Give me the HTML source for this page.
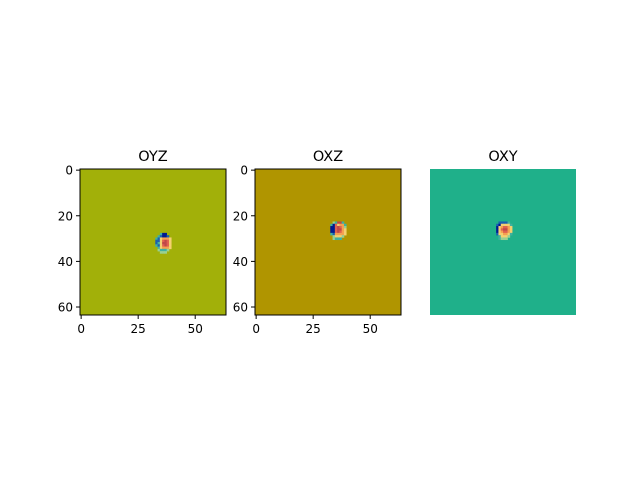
<!DOCTYPE html>
<html><head><meta charset="utf-8"><style>
body{margin:0;background:#fff;}
svg text{font-family:"DejaVu Sans","Liberation Sans",sans-serif;}
</style></head><body>
<svg id="fig" width="640" height="480" xmlns="http://www.w3.org/2000/svg"></svg>
<script>
const titles=["OYZ","OXZ","OXY"];
const bgColors=["#a2b009","#b09500","#1fb08a"];
const xTicks=[0,25,50];
const yTicks=[0,20,40,60];
const palette={c:"#40b0a0",b:"#1a60b0",B:"#001a90",y:"#f5d070",o:"#f5a050",r:"#e06050",R:"#c04848",l:"#9ad090"};
// blob grids: origin [col,row] and rows of palette keys ('.' = background)
const blob1Origin=[32,28];
const blob1=["...cBB..","..cbBBb.",".cbyoooy",".bbyrRry",".bcyRRry",".cbyrRry","..cyoooy","..lcccl.","...lll.."];
const blob2Origin=[32,23];
const blob2=["..lcRRc.",".cBryooc",".BBrRrol",".BBrRRoy",".BBrRroy",".cbooooy","..lyyyl.","..lccc.."];
const blob3Origin=[28,23];
const blob3=["..bbbbc.",".bByyyyc",".Byorroy",".ByrRRoy",".Byorroy",".byyooyc","..cyyyl.","..clll.."];
const blobs=[blob1,blob2,blob3];
const origins=[blob1Origin,blob2Origin,blob3Origin];
const panelX=[80,255,430], topY=169, size=146;
const svg=document.getElementById('fig');
const NS="http://www.w3.org/2000/svg";
function mk(t,a){const e=document.createElementNS(NS,t);for(const k in a)e.setAttribute(k,a[k]);return e;}
for(let p=0;p<3;p++){
  const x0=panelX[p];
  const sx=v=>x0+(v+0.5)*size/64, sy=v=>topY+(v+0.5)*size/64;
  const g=mk('g',{});
  
  
  svg.appendChild(g);
  const bg=mk('rect',{x:x0,y:topY,width:size,height:size,fill:bgColors[p]});
  
  
  g.appendChild(bg);
  const [c0,r0]=origins[p];
  blobs[p].forEach((row,ri)=>{
    for(let ci=0;ci<row.length;ci++){
      const k=row[ci]; if(!palette[k]) continue;
      const r=mk('rect',{x:sx(c0+ci-0.5),y:sy(r0+ri-0.5),width:size/64+0.3,height:size/64+0.3,fill:palette[k]});
      
      
      g.appendChild(r);
    }
  });
  const t=mk('text',{x:x0+size/2,y:topY-8,'text-anchor':'middle','font-size':'14.5'});
  t.textContent=titles[p];
  
  
  g.appendChild(t);
  if(p<2){
    const fr=mk('rect',{x:x0,y:topY,width:size,height:size,fill:'none',stroke:'#000','stroke-width':1});
    
    
    g.appendChild(fr);
    for(const v of xTicks){
      g.appendChild(mk('line',{x1:sx(v),x2:sx(v),y1:topY+size,y2:topY+size+4,stroke:'#000'}));
      const tl=mk('text',{x:sx(v),y:topY+size+18,'text-anchor':'middle','font-size':'12'});
      tl.textContent=v;
      
      
      g.appendChild(tl);
    }
    for(const v of yTicks){
      g.appendChild(mk('line',{x1:x0-4,x2:x0,y1:sy(v),y2:sy(v),stroke:'#000'}));
      const tl=mk('text',{x:x0-7,y:sy(v)+4.5,'text-anchor':'end','font-size':'12'});
      tl.textContent=v;
      
      
      g.appendChild(tl);
    }
  }
}
</script>
</body></html>
